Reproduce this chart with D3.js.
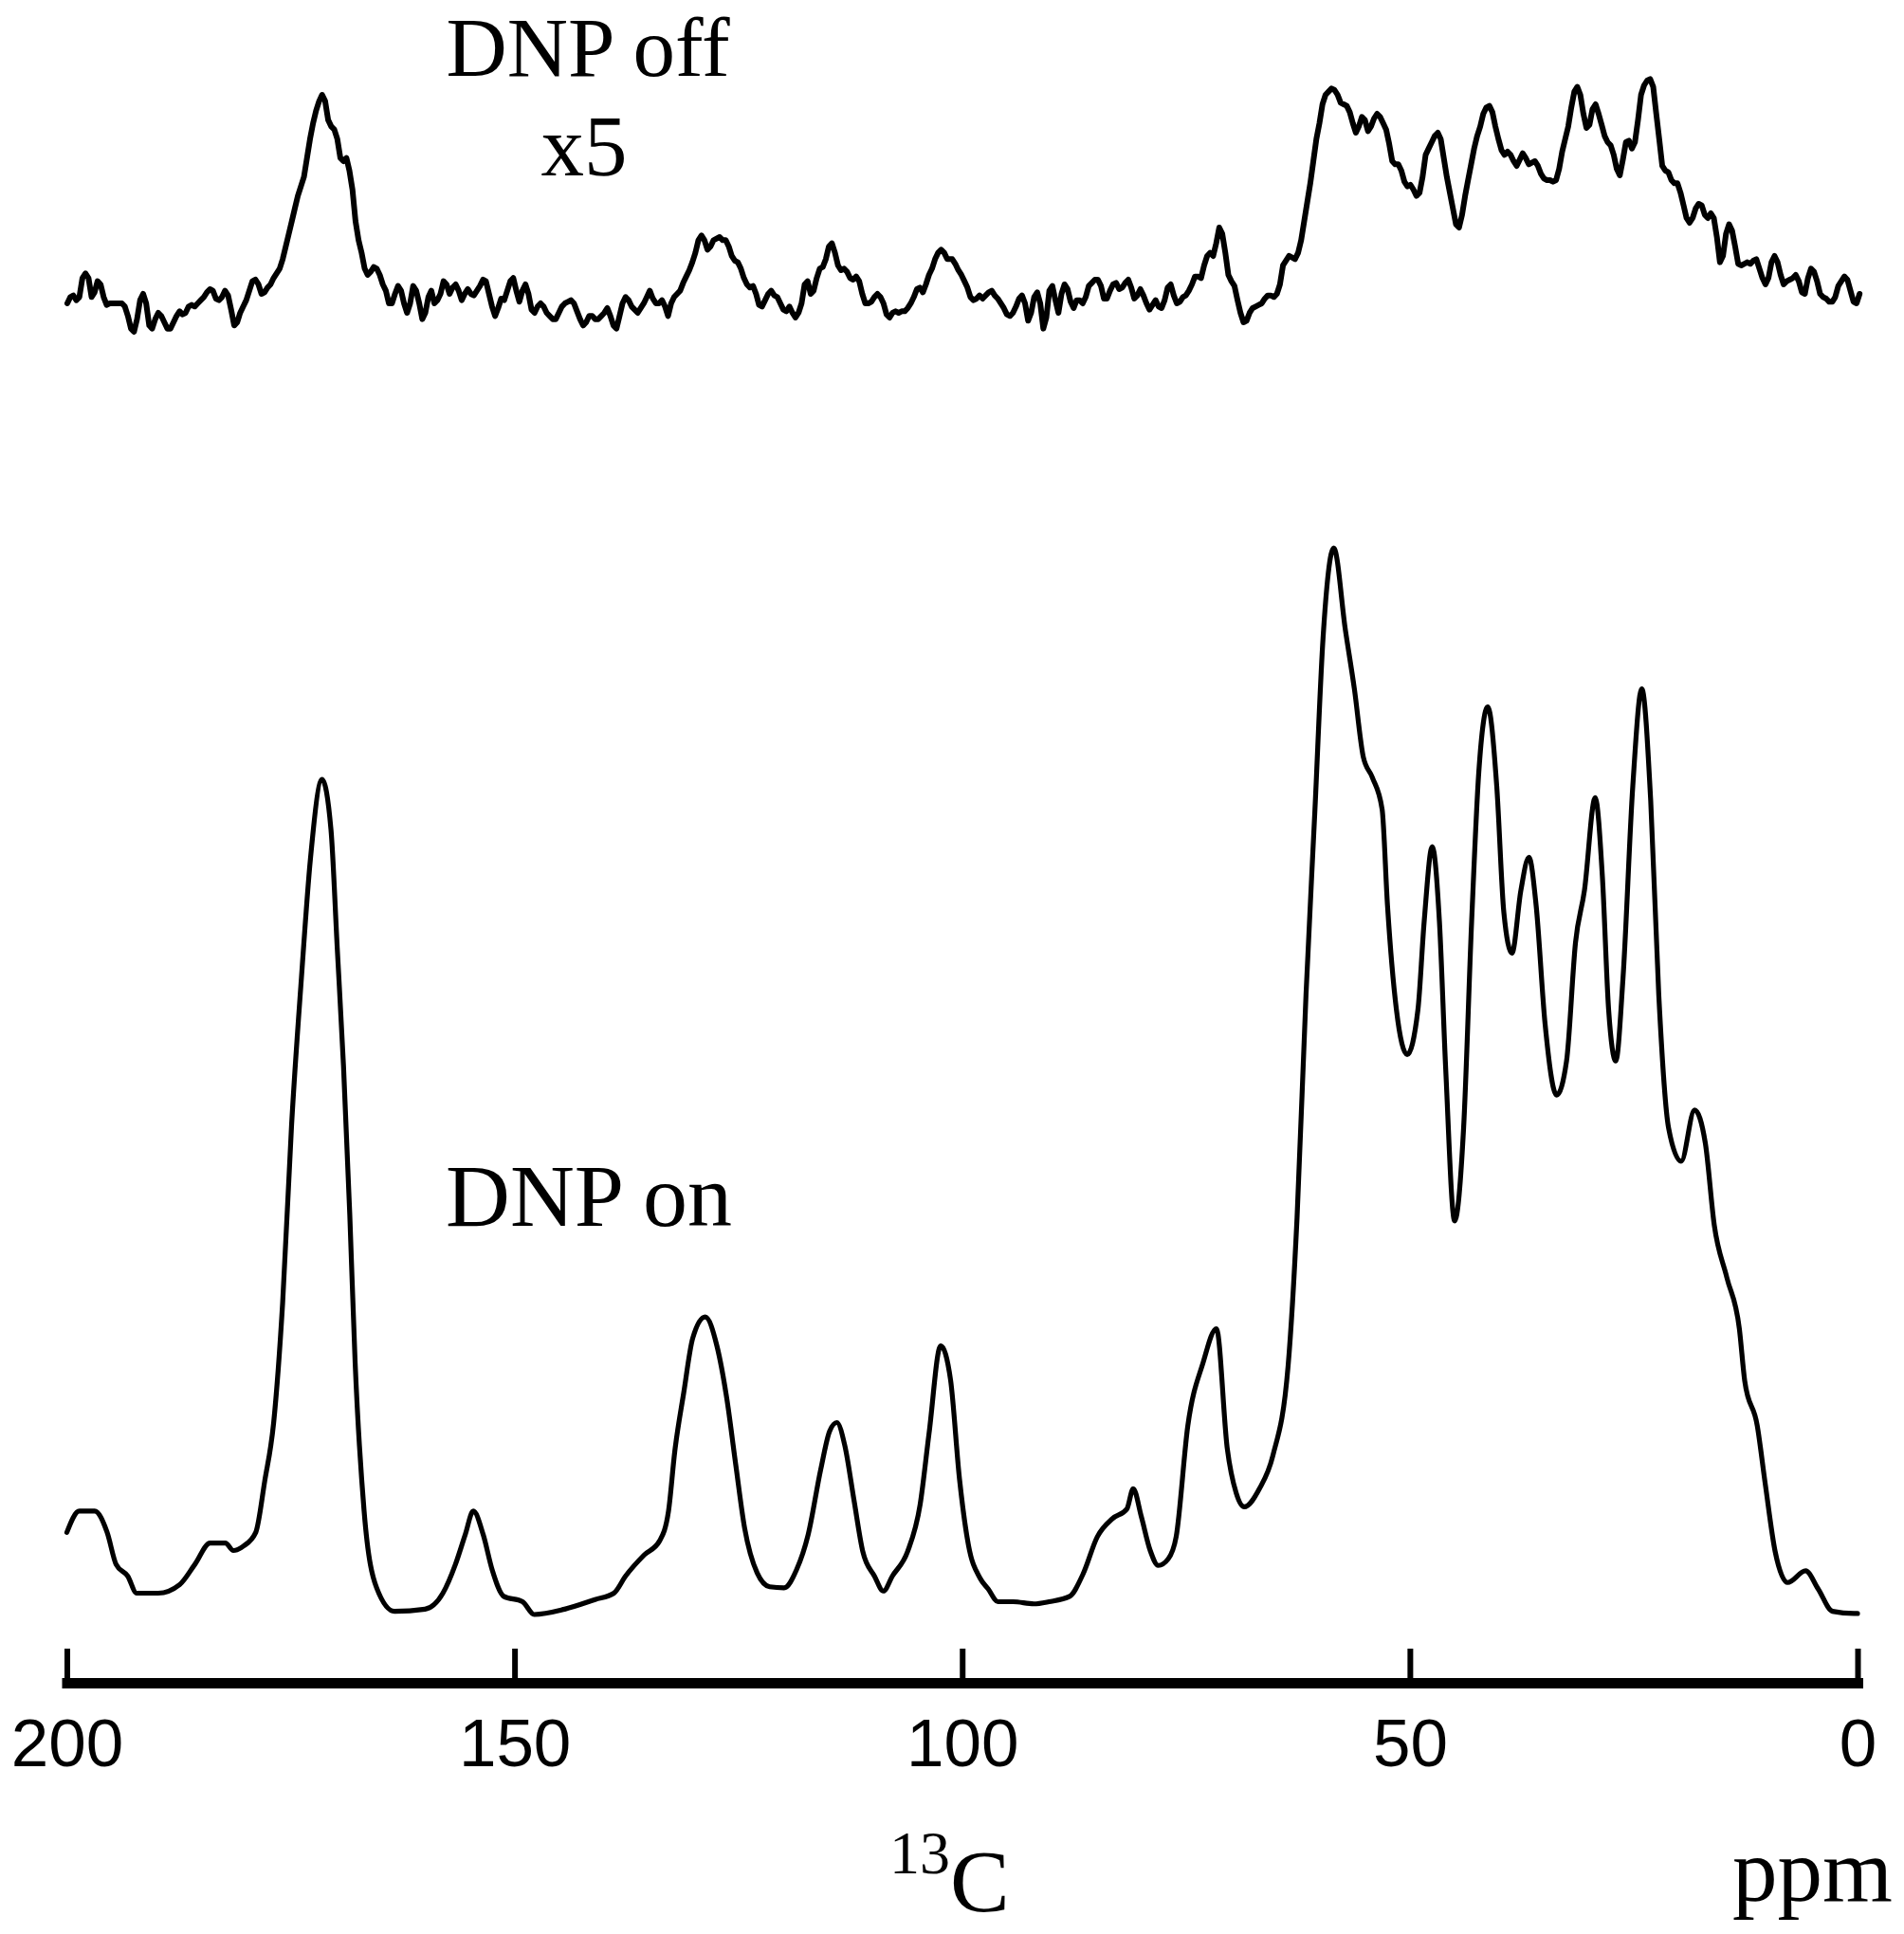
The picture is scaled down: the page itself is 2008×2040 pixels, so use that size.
<!DOCTYPE html>
<html>
<head>
<meta charset="utf-8">
<script src="https://cdn.jsdelivr.net/npm/d3@7"></script>
<style>
  html, body { margin: 0; padding: 0; background: #fff; }
  svg { display: block; }
</style>
</head>
<body>
<script>
// ---------------- DATA ----------------
// x axis ticks (ppm)
const tickValues = [200, 150, 100, 50, 0];

// Labels
const labelOff = "DNP off";
const labelOffScale = "x5";
const labelOn = "DNP on";
const nucleusMass = "13";
const nucleusSymbol = "C";
const unitLabel = "ppm";

// DNP on spectrum (ppm, relative intensity; max peak = 100)
const onPpm = [200.0, 198.6, 196.9, 195.5, 194.5, 193.2, 192.2, 189.8, 187.4, 185.7,
  184.0, 182.3, 181.4, 180.3, 178.9, 177.9, 176.9, 175.9, 174.9, 173.8,
  172.8, 171.5, 170.5, 169.8, 169.1, 168.4, 167.8, 166.8, 165.4, 163.4,
  160.0, 158.0, 156.6, 155.5, 154.6, 153.5, 152.5, 151.2, 149.1, 147.8,
  144.4, 141.0, 138.9, 137.6, 135.5, 133.8, 132.8, 132.1, 131.1, 130.1,
  128.7, 127.4, 126.3, 125.3, 124.3, 122.9, 121.5, 119.9, 118.5, 117.2,
  115.8, 114.8, 114.0, 113.1, 112.1, 111.1, 109.8, 108.8, 107.8, 106.1,
  104.7, 103.7, 102.4, 101.3, 100.3, 99.3, 98.0, 97.1, 96.0, 94.3,
  92.0, 90.3, 88.0, 86.5, 84.9, 83.2, 81.6, 80.9, 80.0, 79.0,
  78.1, 77.0, 76.1, 74.8, 73.1, 71.6, 70.4, 69.4, 68.5, 66.8,
  65.3, 63.6, 62.6, 61.6, 60.6, 59.7, 58.5, 57.2, 56.2, 55.2,
  54.2, 53.1, 52.5, 51.5, 50.3, 49.1, 48.4, 47.5, 46.7, 46.0,
  45.0, 44.0, 43.1, 42.3, 41.3, 40.3, 39.5, 38.6, 37.6, 36.7,
  35.9, 34.9, 33.6, 32.5, 31.5, 30.5, 29.3, 28.5, 27.8, 27.0,
  26.2, 25.1, 24.1, 23.1, 22.2, 21.1, 19.7, 18.2, 17.0, 16.0,
  14.6, 13.2, 12.6, 11.2, 10.3, 9.2, 7.8, 5.8, 4.4, 2.8,
  0.4, 0.0];
const onVal = [7.7, 9.7, 9.7, 7.7, 4.7, 3.6, 2.0, 2.0, 2.8, 4.7,
  6.7, 6.7, 6.0, 6.4, 7.7, 12.5, 18.0, 29.2, 45.9, 59.7,
  70.8, 78.3, 73.6, 62.5, 51.4, 37.5, 23.6, 9.7, 2.5, 0.3,
  0.5, 2.0, 4.7, 7.5, 9.7, 7.5, 4.2, 1.7, 1.2, 0.0,
  0.5, 1.4, 2.0, 3.6, 5.6, 6.9, 9.7, 15.3, 20.8, 25.9,
  27.9, 25.2, 20.3, 14.1, 8.1, 3.9, 2.6, 2.5, 4.2, 7.5,
  13.6, 17.2, 18.0, 15.8, 10.8, 5.9, 3.6, 2.2, 3.6, 5.9,
  10.3, 17.0, 25.2, 22.0, 12.7, 6.5, 3.4, 2.4, 1.2, 1.2,
  1.0, 1.2, 1.7, 3.8, 7.3, 9.0, 9.9, 11.8, 9.2, 6.0,
  4.6, 5.2, 7.3, 17.7, 23.6, 26.8, 15.6, 11.4, 10.1, 11.8,
  14.9, 23.3, 37.2, 58.1, 75.5, 91.5, 100, 92.3, 86.8, 80.4,
  78.5, 75.5, 66.5, 56.7, 52.5, 56.7, 65.0, 72.0, 65.0, 51.2,
  36.9, 45.6, 65.0, 79.0, 85.1, 77.7, 65.8, 62.0, 67.9, 71.0,
  66.5, 55.4, 48.7, 51.9, 63.0, 67.9, 76.6, 69.2, 56.7, 51.9,
  59.6, 77.7, 86.8, 76.3, 58.1, 45.6, 42.5, 47.3, 44.2, 36.5,
  31.6, 26.8, 21.9, 17.7, 12.2, 5.9, 3.0, 4.1, 2.4, 0.3,
  0.1, 0.1];

// DNP off spectrum (x5), ppm and intensity (arbitrary units)
const offPpm = [199.95, 199.61, 199.28, 198.94, 198.60, 198.26, 197.92, 197.58, 197.24, 196.90,
  196.57, 196.23, 195.89, 195.55, 195.21, 194.87, 194.53, 194.19, 193.85, 193.52,
  193.18, 192.84, 192.50, 192.16, 191.82, 191.48, 191.14, 190.80, 190.47, 190.13,
  189.79, 189.45, 189.11, 188.77, 188.43, 188.09, 187.75, 187.41, 187.08, 186.74,
  186.40, 186.06, 185.72, 185.38, 185.04, 184.70, 184.36, 184.02, 183.69, 183.35,
  183.01, 182.67, 182.33, 181.99, 181.65, 181.31, 180.97, 180.64, 180.30, 179.96,
  179.62, 179.28, 178.94, 178.60, 178.26, 177.92, 177.59, 177.25, 176.91, 176.57,
  176.23, 175.89, 175.55, 175.21, 174.87, 174.54, 174.20, 173.86, 173.52, 173.18,
  172.84, 172.50, 172.16, 171.82, 171.49, 171.15, 170.81, 170.47, 170.13, 169.79,
  169.45, 169.11, 168.77, 168.44, 168.10, 167.76, 167.42, 167.08, 166.74, 166.40,
  166.06, 165.72, 165.39, 165.05, 164.71, 164.37, 164.03, 163.69, 163.35, 163.01,
  162.67, 162.34, 162.00, 161.66, 161.32, 160.98, 160.64, 160.30, 159.96, 159.62,
  159.29, 158.95, 158.61, 158.27, 157.93, 157.59, 157.25, 156.91, 156.57, 156.24,
  155.90, 155.56, 155.22, 154.88, 154.54, 154.20, 153.86, 153.52, 153.19, 152.85,
  152.51, 152.17, 151.83, 151.49, 151.15, 150.81, 150.47, 150.14, 149.80, 149.46,
  149.12, 148.78, 148.44, 148.10, 147.76, 147.42, 147.09, 146.75, 146.41, 146.07,
  145.73, 145.39, 145.05, 144.71, 144.37, 144.04, 143.70, 143.36, 143.02, 142.68,
  142.34, 142.00, 141.66, 141.32, 140.99, 140.65, 140.31, 139.97, 139.63, 139.29,
  138.95, 138.61, 138.27, 137.94, 137.60, 137.26, 136.92, 136.58, 136.24, 135.90,
  135.56, 135.22, 134.89, 134.55, 134.21, 133.87, 133.53, 133.19, 132.85, 132.51,
  132.17, 131.84, 131.50, 131.16, 130.82, 130.48, 130.14, 129.80, 129.46, 129.12,
  128.79, 128.45, 128.11, 127.77, 127.43, 127.09, 126.75, 126.41, 126.07, 125.74,
  125.40, 125.06, 124.72, 124.38, 124.04, 123.70, 123.36, 123.02, 122.69, 122.35,
  122.01, 121.67, 121.33, 120.99, 120.65, 120.31, 119.97, 119.64, 119.30, 118.96,
  118.62, 118.28, 117.94, 117.60, 117.26, 116.92, 116.59, 116.25, 115.91, 115.57,
  115.23, 114.89, 114.55, 114.21, 113.87, 113.54, 113.20, 112.86, 112.52, 112.18,
  111.84, 111.50, 111.16, 110.82, 110.49, 110.15, 109.81, 109.47, 109.13, 108.79,
  108.45, 108.11, 107.77, 107.44, 107.10, 106.76, 106.42, 106.08, 105.74, 105.40,
  105.06, 104.72, 104.39, 104.05, 103.71, 103.37, 103.03, 102.69, 102.35, 102.01,
  101.67,
  101.11, 100.77, 100.43, 100.09, 99.75, 99.42, 99.08, 98.74, 98.40, 98.06,
  97.72, 97.38, 97.04, 96.70, 96.37, 96.03, 95.69, 95.35, 95.01, 94.67,
  94.33, 93.99, 93.65, 93.32, 92.98, 92.64, 92.30, 91.96, 91.62, 91.28,
  90.94, 90.60, 90.27, 89.93, 89.59, 89.25, 88.91, 88.57, 88.23, 87.89,
  87.55, 87.22, 86.88, 86.54, 86.20, 85.86, 85.52, 85.18, 84.84, 84.50,
  84.17, 83.83, 83.49, 83.15, 82.81, 82.47, 82.13, 81.79, 81.45, 81.12,
  80.78, 80.44, 80.10, 79.76, 79.42, 79.08, 78.74, 78.40, 78.07, 77.73,
  77.39, 77.05, 76.71, 76.37, 76.03, 75.69, 75.35, 75.02, 74.68, 74.34,
  74.00, 73.66, 73.32, 72.98, 72.64, 72.30, 71.97, 71.63, 71.29, 70.95,
  70.61, 70.27, 69.93, 69.59, 69.25, 68.92, 68.58, 68.24, 67.90, 67.56,
  67.22, 66.88, 66.54, 66.20, 65.87, 65.53, 65.19, 64.85, 64.51, 64.17,
  63.83, 63.49, 63.15, 62.82, 62.48, 62.14, 61.80, 61.46, 61.12, 60.78,
  60.44, 60.10, 59.76, 59.42, 59.08, 58.75, 58.41, 58.07, 57.73, 57.39,
  57.05, 56.71, 56.37, 56.03, 55.70, 55.36, 55.02, 54.68, 54.34, 54.00,
  53.66, 53.32, 52.98, 52.65, 52.31, 51.97, 51.63, 51.29, 50.95, 50.61,
  50.27, 49.93, 49.60, 49.26, 48.92, 48.58, 48.24, 47.90, 47.56, 47.22,
  46.88, 46.55, 46.21, 45.87, 45.53, 45.19, 44.85, 44.51, 44.17, 43.83,
  43.50, 43.16, 42.82, 42.48, 42.14, 41.80, 41.46, 41.12, 40.78, 40.45,
  40.11, 39.77, 39.43, 39.09, 38.75, 38.41, 38.07, 37.73, 37.40, 37.06,
  36.72, 36.38, 36.04, 35.70, 35.36, 35.02, 34.68, 34.35, 34.01, 33.67,
  33.33, 32.99, 32.65, 32.31, 31.97, 31.63, 31.30, 30.96, 30.62, 30.28,
  29.94, 29.60, 29.26, 28.92, 28.58, 28.25, 27.91, 27.57, 27.23, 26.89,
  26.55, 26.21, 25.87, 25.53, 25.20, 24.86, 24.52, 24.18, 23.84, 23.50,
  23.16, 22.82, 22.48, 22.15, 21.81, 21.47, 21.13, 20.79, 20.45, 20.11,
  19.77, 19.43, 19.10, 18.76, 18.42, 18.08, 17.74, 17.40, 17.06, 16.72,
  16.38, 16.05, 15.71, 15.37, 15.03, 14.69, 14.35, 14.01, 13.67, 13.33,
  13.00, 12.66, 12.32, 11.98, 11.64, 11.30, 10.96, 10.62, 10.28, 9.95,
  9.61, 9.27, 8.93, 8.59, 8.25, 7.91, 7.57, 7.23, 6.90, 6.56,
  6.22, 5.88, 5.54, 5.20, 4.86, 4.52, 4.18, 3.84, 3.50, 3.16,
  2.82, 2.49, 2.15, 1.81, 1.47, 1.13, 0.79, 0.45, 0.11, -0.23];
const offVal = [4.0, 6.0, 6.5, 5.0, 6.0, 12.0, 13.5, 12.0, 6.0, 7.5,
  11.0, 10.0, 6.0, 3.5, 4.0, 4.0, 4.0, 4.0, 4.0, 3.0,
  0.0, -4.0, -5.0, -1.0, 5.0, 7.0, 4.0, -3.0, -4.0, -1.0,
  1.0, 0, -2, -4, -4, -2, 0, 1.5, 0.5, 1.0,
  3.0, 3.5, 3.0, 4.0, 5.0, 6.0, 7.5, 8.5, 8.0, 5.5,
  5.0, 6.0, 8.0, 6.5, 2.0, -3.0, -2.0, 1.0, 3.0, 5.0,
  8.0, 11.0, 11.5, 10.0, 7.0, 7.5, 9.0, 10.0, 12.0, 13.5,
  15.0, 18.0, 22.0, 26.0, 30.0, 34.0, 38.0, 41.0, 44.0, 50.0,
  56.0, 61.0, 65.0, 68.0, 70.0, 68.0, 62.0, 60.0, 59.0, 56.0,
  50.0, 49.0, 50.0, 46.0, 40.0, 30.0, 24.0, 20.0, 15.0, 13.0,
  14.0, 15.5, 15.0, 13.0, 10.0, 8.0, 4.0, 4.0, 7.0, 9.5,
  8.0, 4.0, 1.0, 4.0, 9.5, 8.0, 4.0, -1.0, 1.0, 6.0,
  8.0, 4.0, 5.0, 7.0, 11.0, 10.0, 7.0, 9.0, 10.0, 8.0,
  5.0, 7.0, 8.5, 7.0, 6.5, 8.0, 9.5, 11.5, 11.0, 7.0,
  3.0, 0, 2.5, 5.5, 5.0, 8.0, 11.0, 12.0, 8.0, 4.5,
  8.0, 10.0, 7.0, 2.0, 1.0, 3.0, 4.0, 3.0, 1.0, 0,
  -1, -1, 1, 3, 4, 4.5, 5, 4, 1.5, -1,
  -3, -2, 0, 0, -1, -1, 0, 1, 2.5, 0,
  -3, -4, 0, 4, 6, 5, 3, 2, 1, 2.5,
  4, 6, 8, 5.5, 4, 4, 5, 3, 0, 4,
  6, 7, 8, 10.5, 12.5, 14.5, 17, 20, 24, 25.5,
  24, 21, 22, 24, 24.5, 25, 24, 24, 22, 19,
  17.5, 17, 15, 12, 10, 9, 9.5, 7, 3.5, 3,
  5, 7, 8, 6.5, 6, 4, 2, 1.5, 3, 1,
  -0.5, 1, 4, 10, 11, 7, 8, 12, 15, 15.5,
  18, 22, 23, 20, 16, 14.5, 15, 14, 12, 11.5,
  12.5, 11, 7, 4, 4, 4.5, 6, 7, 6, 4,
  0.5, -0.5, 1, 1.5, 1, 1.5, 1.5, 2.5, 4, 6,
  8.5, 9, 7.5, 10, 13, 15, 18, 20, 21, 20,
  18,
  18, 16.5, 14.5, 13, 11, 9, 6, 5, 5.5, 6.5,
  5.5, 6.5, 7.5, 8, 6.5, 5.5, 4, 2.5, 0.5, 0,
  1, 3, 5.5, 6.5, 4, -1.5, 1, 6, 7.5, 4,
  -4, -0.5, 8, 9.5, 5, 1, 7, 10, 8.5, 4.5,
  2.5, 5, 5, 4, 6, 9.5, 10.5, 11.5, 11.5, 9.5,
  5.5, 5.5, 8, 10, 10.5, 8.5, 9, 10.5, 11.5, 9,
  5.5, 6.5, 8.5, 6.5, 4, 2, 3.5, 5, 3, 2.5,
  5, 9, 10, 6.5, 4, 4.5, 6, 6.5, 8, 10,
  12.5, 12.5, 12, 16, 19, 20, 19, 23, 28, 26,
  20, 13, 11, 9.5, 5, 1, -2, -1.5, 1, 2.5,
  3, 3.5, 4, 5.5, 6.5, 6.5, 6, 7, 10, 16,
  17.5, 19, 18.5, 18, 20, 24, 30, 36, 42, 49,
  56, 61, 67, 70, 71, 72, 71.5, 70, 67.5, 67,
  66.5, 64.5, 61, 58, 60, 63, 62, 58.5, 60, 62.5,
  64, 63, 61, 59, 54.5, 49, 48, 48, 46, 42.5,
  41, 41.5, 40, 38, 39, 44, 51, 53, 55, 57,
  58, 56, 50, 44, 39, 34, 29, 28, 32, 38,
  43, 48, 53, 57, 60, 64, 66, 66.5, 64.5, 60,
  56, 52.5, 51, 52, 51, 49, 47.5, 49.5, 51.5, 50,
  48, 48.5, 49, 47.5, 45, 43.5, 43, 43, 42.5, 43,
  46.5, 52, 56, 60, 66, 71, 72.5, 70, 64, 59.5,
  60.5, 65.5, 67, 64, 60.5, 57, 55, 54, 51, 46.5,
  44.5, 49.5, 55, 55.5, 53, 55, 62, 70, 73, 74.5,
  75, 72.5, 64, 56, 47.5, 46, 45.5, 43, 42, 42,
  39, 35, 31, 29.5, 31, 34, 35.5, 35, 32, 31,
  32.5, 31, 25, 17, 19, 26, 29, 27, 22, 16.5,
  16, 16.5, 17, 16.5, 17.5, 18, 15, 12, 10, 12,
  17, 19, 17, 13, 10, 11, 11.5, 12, 13, 11,
  7.5, 7, 12, 15, 14, 11, 7, 6, 5.5, 4.5,
  4.5, 6, 9.5, 11, 12.5, 11.5, 8, 4.5, 4, 7];

// ---------------- CHART ----------------
const W = 2008, H = 2040;
const svg = d3.select("body").append("svg")
  .attr("width", W).attr("height", H)
  .attr("viewBox", `0 0 ${W} ${H}`);

svg.append("rect").attr("width", W).attr("height", H).attr("fill", "#fff");

const x = d3.scaleLinear().domain([200, 0]).range([70.5, 1959]);
const yOn = d3.scaleLinear().domain([0, 100]).range([1703, 578]);
const yOff = d3.scaleLinear().domain([0, 70]).range([333.3, 100]);

const serif = "'Liberation Serif', 'Times New Roman', Times, serif";
const sans = "'Liberation Sans', Arial, Helvetica, sans-serif";

const onData = onPpm.map((p, i) => ({ p, v: onVal[i] }));
const offData = offPpm.map((p, i) => ({ p, v: offVal[i] }));

const lineOn = d3.line().x(d => x(d.p)).y(d => yOn(d.v)).curve(d3.curveMonotoneX);
const lineOff = d3.line().x(d => x(d.p)).y(d => yOff(d.v)).curve(d3.curveLinear);

svg.append("path").datum(offData)
  .attr("d", lineOff)
  .attr("fill", "none").attr("stroke", "#000")
  .attr("stroke-width", 6).attr("stroke-linejoin", "round").attr("stroke-linecap", "round");

svg.append("path").datum(onData)
  .attr("d", lineOn)
  .attr("fill", "none").attr("stroke", "#000")
  .attr("stroke-width", 5.2).attr("stroke-linejoin", "round").attr("stroke-linecap", "round");

// Axis
const axis = d3.axisBottom(x)
  .tickValues(tickValues)
  .tickFormat(d3.format("d"))
  .tickSizeInner(-36)
  .tickSizeOuter(0)
  .tickPadding(38);

const gAxis = svg.append("g").attr("transform", "translate(0,1775)").call(axis);
gAxis.select(".domain")
  .attr("stroke", "#000").attr("stroke-width", 11).attr("stroke-linecap", "square");
gAxis.selectAll(".tick line")
  .attr("stroke", "#000").attr("stroke-width", 6);
gAxis.selectAll(".tick text")
  .attr("fill", "#000")
  .style("font-family", sans)
  .style("font-size", "71px");

// Labels
svg.append("text").attr("x", 620).attr("y", 80)
  .attr("text-anchor", "middle")
  .style("font-family", serif).style("font-size", "89px")
  .text(labelOff);
svg.append("text").attr("x", 616).attr("y", 185)
  .attr("text-anchor", "middle")
  .style("font-family", serif).style("font-size", "91px")
  .text(labelOffScale);
svg.append("text").attr("x", 470).attr("y", 1293)
  .attr("text-anchor", "start")
  .style("font-family", serif).style("font-size", "94px")
  .text(labelOn);

const nuc = svg.append("text").attr("x", 938).attr("y", 2016)
  .style("font-family", serif);
nuc.append("tspan").attr("dy", -40).style("font-size", "64px").text(nucleusMass);
nuc.append("tspan").attr("dy", 40).style("font-size", "94px").text(nucleusSymbol);

svg.append("text").attr("x", 1827).attr("y", 2005)
  .style("font-family", serif).style("font-size", "95px")
  .text(unitLabel);
</script>
</body>
</html>
